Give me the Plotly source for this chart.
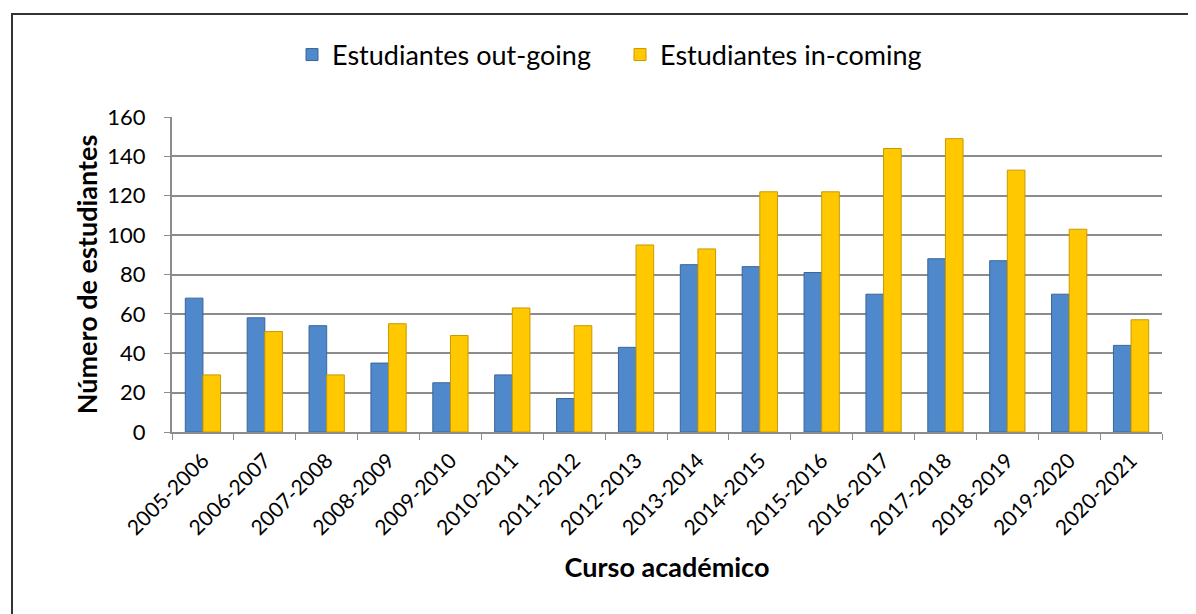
import plotly.graph_objects as go

cursos = ["2005-2006", "2006-2007", "2007-2008", "2008-2009", "2009-2010", "2010-2011",
          "2011-2012", "2012-2013", "2013-2014", "2014-2015", "2015-2016", "2016-2017",
          "2017-2018", "2018-2019", "2019-2020", "2020-2021"]
out_going = [68, 58, 54, 35, 25, 29, 17, 43, 85, 84, 81, 70, 88, 87, 70, 44]
in_coming = [29, 51, 29, 55, 49, 63, 54, 95, 93, 122, 122, 144, 149, 133, 103, 57]
y_ticks = [0, 20, 40, 60, 80, 100, 120, 140, 160]

FONT = "Lato"
OFF = 8  # page body margin
W, H = 1196 - OFF, 614 - OFF
L, T = 172 - OFF, 117 - OFF
R = W - (1162 - OFF)
B = H - (432 - OFF)
pw, ph = W - L - R, H - T - B


def px_x(p):
    return (p - OFF - L) / pw


def px_y(p):
    return 1 - (p - OFF - T) / ph


fig = go.Figure()
fig.add_trace(go.Bar(name="Estudiantes out-going", x=cursos, y=out_going,
                     marker=dict(color="#5089CB", line=dict(color="#3A6597", width=1))))
fig.add_trace(go.Bar(name="Estudiantes in-coming", x=cursos, y=in_coming,
                     marker=dict(color="#FFC800", line=dict(color="#C89A00", width=1))))

fig.update_layout(
    width=W, height=H,
    margin=dict(l=L, r=R, t=T, b=B),
    paper_bgcolor="white", plot_bgcolor="white",
    barmode="group", bargap=0.43, bargroupgap=0.0,
    font=dict(family=FONT, color="black"),
    legend=dict(orientation="h", x=px_x(620), xanchor="center", y=px_y(55), yanchor="middle",
                font=dict(size=27, family=FONT), itemwidth=30, traceorder="normal",
                entrywidth=283, bgcolor="rgba(0,0,0,0)"),
    xaxis=dict(
        tickangle=-45, tickfont=dict(size=21, family=FONT),
        showline=True, linecolor="#8C8C8C", linewidth=2,
        ticks="outside", tickson="boundaries", ticklen=6, tickcolor="#8C8C8C", tickwidth=1,
        ticklabelstandoff=6, showgrid=False,
        title=dict(text="<b>Curso académico</b>", font=dict(size=27, family=FONT), standoff=20),
    ),
    yaxis=dict(
        range=[0, 160], tickvals=y_ticks, tickfont=dict(size=22, family=FONT),
        showline=True, linecolor="#8C8C8C", linewidth=2,
        ticks="outside", ticklen=6, tickcolor="#8C8C8C", ticklabelstandoff=14,
        showgrid=True, gridcolor="#8C8C8C", gridwidth=2, zeroline=False,
        title=dict(text="<b>Número de estudiantes</b>", font=dict(size=27, family=FONT), standoff=2),
    ),
    shapes=[dict(type="rect", xref="paper", yref="paper",
                 x0=px_x(12), x1=px_x(1230), y0=px_y(640), y1=px_y(14),
                 line=dict(color="#333333", width=2), fillcolor="rgba(0,0,0,0)", layer="below")],
)

fig.write_html("out.html")
